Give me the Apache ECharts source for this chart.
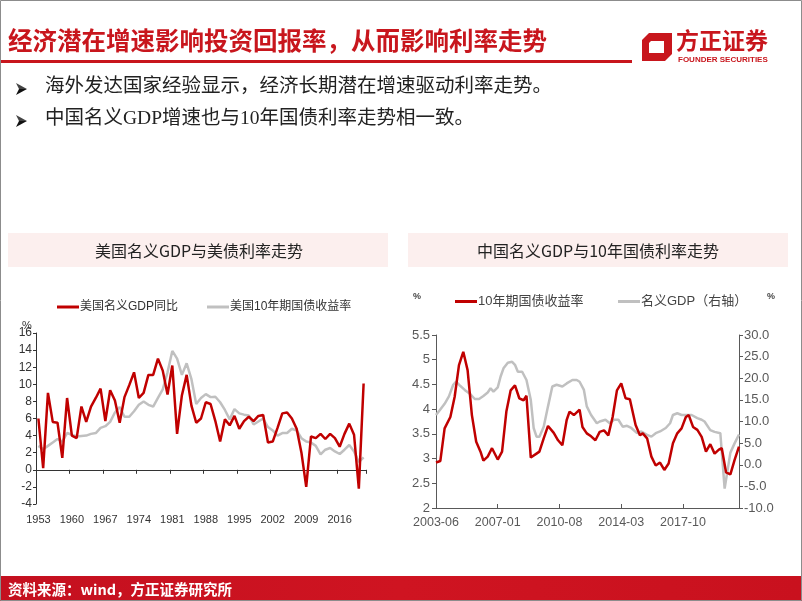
<!DOCTYPE html>
<html>
<head>
<meta charset="utf-8">
<script src="https://cdn.jsdelivr.net/npm/echarts@6/dist/echarts.min.js"></script>
<style>
html,body{margin:0;padding:0;background:#fff;}
#c{width:802px;height:601px;}
</style>
</head>
<body>
<div id="c"></div>
<script>
// ---------------- Data ----------------
const usStartYear = 1953, usEndYear = 2021;
const usYears = [];
for (let y = usStartYear; y <= usEndYear; y++) usYears.push(String(y));

// 美国名义GDP同比 (%), 1953-2021
const usGdp = [6.0,0.2,9.0,5.6,5.5,1.4,8.4,4.0,3.7,7.4,
               5.6,7.4,8.4,9.5,5.7,9.3,8.1,5.5,8.5,9.9,
               11.4,8.4,9.0,11.1,11.1,13.0,11.6,8.8,12.2,4.2,
               8.7,11.1,7.5,5.5,6.0,7.9,7.7,5.7,3.3,5.9,
               5.2,6.3,4.8,5.7,6.2,5.7,6.3,6.4,3.2,3.3,
               4.9,6.6,6.7,6.0,4.8,2.0,-2.0,3.9,3.7,4.2,
               3.6,4.2,3.7,2.7,4.2,5.4,4.1,-2.2,10.1];
// 美国10年期国债收益率 (%), 1953-2021
const usYield = [2.8,2.4,2.8,3.2,3.6,3.3,4.3,4.1,3.9,3.95,
                 4.0,4.2,4.3,4.9,5.1,5.6,6.7,7.35,6.2,6.2,
                 6.85,7.6,8.0,7.6,7.4,8.4,9.4,11.4,13.9,13.0,
                 11.1,12.45,10.6,7.7,8.4,8.85,8.5,8.55,7.9,7.0,
                 5.9,7.1,6.6,6.45,6.35,5.3,5.65,6.0,5.0,4.6,
                 4.0,4.3,4.3,4.8,4.6,3.7,3.3,3.2,2.8,1.8,
                 2.35,2.55,2.15,1.85,2.35,2.9,2.15,0.9,1.45];

// China chart: monthly categories 2003-06 .. 2021-01
const cnStart = [2003, 6], cnEnd = [2021, 1];
const cnMonths = [];
for (let y = cnStart[0], m = cnStart[1]; y < cnEnd[0] || (y === cnEnd[0] && m <= cnEnd[1]); ) {
  cnMonths.push(y + '-' + (m < 10 ? '0' + m : m));
  m++; if (m > 12) { m = 1; y++; }
}
// 10年期国债收益率 (%), read at points
const cnYield = [
 ['2003-06',2.92],['2003-09',2.95],['2003-12',3.61],['2004-04',3.84],['2004-07',4.25],
 ['2004-10',4.89],['2005-01',5.16],['2005-04',4.79],['2005-07',3.88],['2005-10',3.34],
 ['2006-01',3.14],['2006-03',2.96],['2006-06',3.04],['2006-09',3.21],['2007-01',2.98],
 ['2007-04',3.14],['2007-07',3.95],['2007-10',4.38],['2008-01',4.48],['2008-04',4.22],
 ['2008-07',4.18],['2008-09',4.27],['2008-12',3.02],['2009-04',3.10],['2009-06',3.14],
 ['2009-09',3.41],['2009-12',3.66],['2010-04',3.52],['2010-07',3.37],['2010-10',3.27],
 ['2011-01',3.78],['2011-03',3.95],['2011-06',3.88],['2011-10',3.99],['2011-12',3.64],
 ['2012-03',3.51],['2012-06',3.45],['2012-09',3.37],['2012-12',3.54],['2013-03',3.57],
 ['2013-06',3.47],['2013-09',3.84],['2013-12',4.38],['2014-03',4.52],['2014-06',4.22],
 ['2014-09',4.20],['2015-01',3.68],['2015-04',3.47],['2015-06',3.51],['2015-09',3.41],
 ['2015-12',3.04],['2016-03',2.86],['2016-06',2.92],['2016-09',2.77],['2016-12',2.90],
 ['2017-03',3.31],['2017-06',3.51],['2017-09',3.61],['2017-12',3.84],['2018-02',3.88],
 ['2018-05',3.64],['2018-08',3.58],['2018-11',3.44],['2019-02',3.14],['2019-05',3.29],
 ['2019-08',3.10],['2019-11',3.18],['2020-01',3.21],['2020-04',2.72],['2020-07',2.68],
 ['2020-10',2.98],['2021-01',3.24]
];
// 名义GDP（右轴）(%), read at points
const cnGdp = [
 ['2003-06',11.5],['2003-09',12.8],['2003-12',14.1],['2004-03',15.8],['2004-06',18.5],
 ['2004-08',19.2],['2004-11',18.2],['2005-02',17.3],['2005-06',16.3],['2005-09',15.2],
 ['2005-12',15.2],['2006-03',15.9],['2006-06',16.7],['2006-08',17.7],['2006-10',16.9],
 ['2007-01',17.9],['2007-03',20.4],['2007-05',22.3],['2007-08',23.6],['2007-11',23.8],
 ['2008-01',23.1],['2008-03',21.5],['2008-06',21.5],['2008-09',19.6],['2008-12',15.0],
 ['2009-02',8.5],['2009-04',6.5],['2009-06',6.5],['2009-09',8.8],['2009-12',13.5],
 ['2010-03',18.1],['2010-06',18.5],['2010-10',18.1],['2011-01',18.8],['2011-05',19.6],
 ['2011-08',19.6],['2011-10',19.2],['2012-01',17.3],['2012-03',13.5],['2012-06',11.5],
 ['2012-10',9.6],['2012-12',10.0],['2013-04',10.4],['2013-07',9.6],['2013-10',10.4],
 ['2014-01',10.4],['2014-04',8.8],['2014-07',9.0],['2014-10',8.5],['2015-02',7.3],
 ['2015-05',7.7],['2015-09',6.9],['2015-12',6.5],['2016-03',7.3],['2016-06',7.7],
 ['2016-10',8.5],['2017-01',9.6],['2017-03',11.5],['2017-06',11.9],['2017-09',11.5],
 ['2018-01',11.5],['2018-04',11.5],['2018-08',10.8],['2018-11',10.4],['2019-01',10.0],
 ['2019-05',8.0],['2019-08',7.6],['2019-12',7.3],['2020-01',7.0],['2020-03',-5.5],
 ['2020-07',2.8],['2020-10',5.0],['2021-01',7.0]
];

// ---------------- Chart ----------------
const RED = '#c8161d';
const CJK = '"Noto Sans CJK SC"';
const SANS = 'Liberation Sans, "Noto Sans CJK SC", sans-serif';
const chart = echarts.init(document.getElementById('c'), null, {renderer: 'canvas'});

function arrow(y) {
  return [
    {type: 'polygon', shape: {points: [[16, y - 6], [27, y], [19, y]]}, style: {fill: '#444'}},
    {type: 'polygon', shape: {points: [[19, y], [27, y], [16, y + 6]]}, style: {fill: '#111'}}
  ];
}

const option = {
  animation: false,
  backgroundColor: '#fff',
  textStyle: {fontFamily: SANS},
  graphic: [
    {type: 'rect', shape: {x: 0.5, y: 0.5, width: 801, height: 600}, style: {fill: 'none', stroke: '#8c8c8c', lineWidth: 1}, z: 100},
    {type: 'text', left: 8, top: 28, style: {text: '经济潜在增速影响投资回报率，从而影响利率走势', fill: RED, font: 'bold 24.5px ' + CJK}},
    {type: 'rect', shape: {x: 0, y: 60, width: 632, height: 3}, style: {fill: RED}},
    {type: 'polygon', shape: {points: [[649,33],[672,33],[672,54],[665,61],[642,61],[642,40]]}, style: {fill: RED}},
    {type: 'polygon', shape: {points: [[651,41],[664,41],[664,53],[649,53],[649,43]]}, style: {fill: '#fff'}},
    {type: 'text', left: 676, top: 29, style: {text: '方正证券', fill: RED, font: 'bold 23px ' + CJK}},
    {type: 'text', left: 678, top: 56, style: {text: 'FOUNDER SECURITIES', fill: RED, font: 'bold 8px Liberation Sans'}},
    ...arrow(89),
    {type: 'text', left: 45, top: 77, style: {text: '海外发达国家经验显示，经济长期潜在增速驱动利率走势。', fill: '#222', font: '19.5px Liberation Serif, ' + CJK}},
    ...arrow(121),
    {type: 'text', left: 45, top: 109, style: {text: '中国名义GDP增速也与10年国债利率走势相一致。', fill: '#222', font: '19.5px Liberation Serif, ' + CJK}},
    {type: 'rect', shape: {x: 8, y: 233, width: 380, height: 34}, style: {fill: '#fcefee'}},
    {type: 'rect', shape: {x: 408, y: 233, width: 380, height: 34}, style: {fill: '#fcefee'}},
    {type: 'text', x: 199, y: 251, style: {text: '美国名义GDP与美债利率走势', fill: '#222', font: '16px ' + CJK, textAlign: 'center', textVerticalAlign: 'middle'}},
    {type: 'text', x: 598, y: 251, style: {text: '中国名义GDP与10年国债利率走势', fill: '#222', font: '16px ' + CJK, textAlign: 'center', textVerticalAlign: 'middle'}},
    {type: 'text', x: 27, y: 326, style: {text: '%', fill: '#333', font: '11px Liberation Sans', textAlign: 'center', textVerticalAlign: 'middle'}},
    {type: 'text', x: 417, y: 297, style: {text: '%', fill: '#444', font: 'bold 9px Liberation Sans', textAlign: 'center', textVerticalAlign: 'middle'}},
    {type: 'text', x: 771, y: 297, style: {text: '%', fill: '#444', font: 'bold 9px Liberation Sans', textAlign: 'center', textVerticalAlign: 'middle'}},
    {type: 'rect', shape: {x: 0, y: 576, width: 802, height: 25}, style: {fill: new echarts.graphic.LinearGradient(0,0,1,0,[{offset:0,color:'#c4101f'},{offset:0.5,color:'#cf1421'},{offset:1,color:'#c9111e'}])}},
    {type: 'text', x: 8, y: 589, style: {text: '资料来源：wind，方正证券研究所', fill: '#fff', font: 'bold 14.5px ' + CJK, textVerticalAlign: 'middle'}}
  ],
  legend: [
    {data: ['美国名义GDP同比'], left: 57, top: 301, padding: 0, icon: 'rect', itemWidth: 22, itemHeight: 3, itemGap: 4, textStyle: {fontSize: 12, color: '#333', padding: [0,0,0,-4]}},
    {data: ['美国10年期国债收益率'], left: 207, top: 301, padding: 0, icon: 'rect', itemWidth: 22, itemHeight: 3, textStyle: {fontSize: 12, color: '#333', padding: [0,0,0,-4]}},
    {data: ['10年期国债收益率'], left: 455, top: 295, padding: 0, icon: 'rect', itemWidth: 22, itemHeight: 3, textStyle: {fontSize: 13, color: '#444', padding: [0,0,0,-4]}},
    {data: ['名义GDP（右轴）'], left: 618, top: 295, padding: 0, icon: 'rect', itemWidth: 22, itemHeight: 3, textStyle: {fontSize: 13, color: '#444', padding: [0,0,0,-4]}}
  ],
  grid: [
    {left: 36, top: 333, width: 330, height: 171, containLabel: false},
    {left: 436, top: 335, width: 303, height: 173, containLabel: false}
  ],
  xAxis: [
    {type: 'category', gridIndex: 0, data: usYears, boundaryGap: true, position: 'bottom',
     axisLine: {show: false, onZero: false}, axisTick: {show: false},
     axisLabel: {interval: 6, fontSize: 11, color: '#333', margin: 10, fontFamily: 'Liberation Sans Narrow, Liberation Sans'}},
    {type: 'category', gridIndex: 0, data: usYears, boundaryGap: true, position: 'bottom',
     axisLine: {show: true, onZero: true, lineStyle: {color: '#333', width: 1}},
     axisTick: {show: true, interval: 6, length: 4, lineStyle: {color: '#333'}},
     axisLabel: {show: false}},
    {type: 'category', gridIndex: 1, data: cnMonths, boundaryGap: false, position: 'bottom',
     axisLine: {show: true, onZero: false, lineStyle: {color: '#595959', width: 1}},
     axisTick: {show: true, interval: 42, inside: true, length: 4, lineStyle: {color: '#595959'}},
     axisLabel: {interval: 42, fontSize: 12.5, color: '#595959', margin: 8}}
  ],
  yAxis: [
    {type: 'value', gridIndex: 0, min: -4, max: 16, interval: 2,
     axisLine: {show: true, lineStyle: {color: '#333'}},
     axisTick: {show: true, length: 3, lineStyle: {color: '#333'}},
     axisLabel: {fontSize: 12, color: '#333', margin: 4},
     splitLine: {show: false}},
    {type: 'value', gridIndex: 1, min: 2, max: 5.5, interval: 0.5, position: 'left',
     axisLine: {show: true, lineStyle: {color: '#595959'}},
     axisTick: {show: true, length: 4, lineStyle: {color: '#595959'}},
     axisLabel: {fontSize: 13, color: '#595959', margin: 6},
     splitLine: {show: false}},
    {type: 'value', gridIndex: 1, min: -10, max: 30, interval: 5, position: 'right',
     axisLine: {show: true, lineStyle: {color: '#595959'}},
     axisTick: {show: true, length: 4, lineStyle: {color: '#595959'}},
     axisLabel: {fontSize: 13, color: '#595959', margin: 5, formatter: v => v.toFixed(1)},
     splitLine: {show: false}}
  ],
  series: [
    {name: '美国名义GDP同比', type: 'line', xAxisIndex: 0, yAxisIndex: 0, data: usGdp, symbol: 'none', color: '#c00000', lineStyle: {width: 2.5, color: '#c00000'}, z: 3},
    {name: '美国10年期国债收益率', type: 'line', xAxisIndex: 0, yAxisIndex: 0, data: usYield, symbol: 'none', color: '#c0c0c0', lineStyle: {width: 2.5, color: '#c0c0c0'}, z: 2},
    {name: '10年期国债收益率', type: 'line', xAxisIndex: 2, yAxisIndex: 1, data: cnYield, symbol: 'none', color: '#c00000', lineStyle: {width: 2.5, color: '#c00000'}, z: 3},
    {name: '名义GDP（右轴）', type: 'line', xAxisIndex: 2, yAxisIndex: 2, data: cnGdp, symbol: 'none', color: '#c0c0c0', lineStyle: {width: 2.5, color: '#c0c0c0'}, z: 2}
  ]
};
chart.setOption(option);
</script>
</body>
</html>
